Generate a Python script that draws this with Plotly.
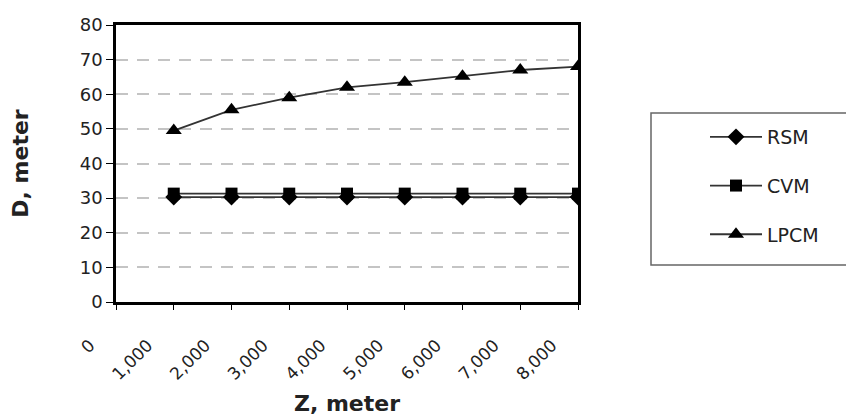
import plotly.graph_objects as go

z = [1000, 2000, 3000, 4000, 5000, 6000, 7000, 8000]
rsm = [30.3, 30.3, 30.3, 30.3, 30.3, 30.3, 30.3, 30.3]
cvm = [31.3, 31.3, 31.3, 31.3, 31.3, 31.3, 31.3, 31.3]
lpcm = [49.5, 55.5, 59.0, 62.0, 63.5, 65.2, 67.0, 68.0]
xticks = [0, 1000, 2000, 3000, 4000, 5000, 6000, 7000, 8000]
xticklabels = ["0", "1,000", "2,000", "3,000", "4,000", "5,000", "6,000", "7,000", "8,000"]
yticks = [0, 10, 20, 30, 40, 50, 60, 70, 80]

font = "DejaVu Sans, Liberation Sans, sans-serif"

fig = go.Figure()
fig.add_trace(go.Scatter(x=z, y=rsm, name="RSM", mode="lines+markers", legendgroup="a",
                         line=dict(color="#333333", width=1.8),
                         marker=dict(symbol="diamond", size=13, color="black")))
fig.add_trace(go.Scatter(x=z, y=cvm, name="CVM", mode="lines+markers", legendgroup="b",
                         line=dict(color="#333333", width=1.8),
                         marker=dict(symbol="square", size=12, color="black")))
fig.add_trace(go.Scatter(x=z, y=lpcm, name="LPCM", mode="lines+markers", legendgroup="c",
                         line=dict(color="#333333", width=1.8),
                         marker=dict(symbol="triangle-up", size=14, color="black")))

# legend frame
fig.add_shape(type="rect", xref="paper", yref="paper",
              x0=(651 - 116) / 462, x1=(852 - 116) / 462,
              y0=(302 - 265) / 277, y1=(302 - 113) / 277,
              line=dict(color="#666666", width=1.5), fillcolor="rgba(0,0,0,0)")

fig.update_layout(
    width=854, height=417,
    margin=dict(l=108, r=284, t=17, b=123),
    paper_bgcolor="white", plot_bgcolor="white",
    font=dict(family=font, color="#222222", size=17),
    showlegend=True,
    legend=dict(x=(705 - 116) / 462, y=(302 - 118) / 277, xanchor="left", yanchor="top",
                borderwidth=0, bgcolor="rgba(0,0,0,0)", itemwidth=52,
                font=dict(size=19, family=font), tracegroupgap=21),
    xaxis=dict(range=[0, 8000], tickmode="array", tickvals=xticks, ticktext=xticklabels,
               tickangle=-45, ticks="outside", ticklen=5, tickcolor="black",
               showline=True, linecolor="black", linewidth=2.5, mirror=True,
               showgrid=False, zeroline=False, automargin=False,
               ticklabelshift=-26, ticklabelstandoff=19,
               title=dict(text="<b>Z, meter</b>", font=dict(size=22), standoff=13),
               tickfont=dict(size=17)),
    yaxis=dict(range=[0, 80], tickmode="array", tickvals=yticks,
               ticks="outside", ticklen=7, tickcolor="black",
               showline=True, linecolor="black", linewidth=2.5, mirror=True,
               showgrid=True, gridcolor="#c4c4c4", gridwidth=2, griddash="12px,9px",
               zeroline=False, automargin=False,
               title=dict(text="<b>D, meter</b>", font=dict(size=22), standoff=47),
               tickfont=dict(size=18)),
)

fig.write_html("out.html")
